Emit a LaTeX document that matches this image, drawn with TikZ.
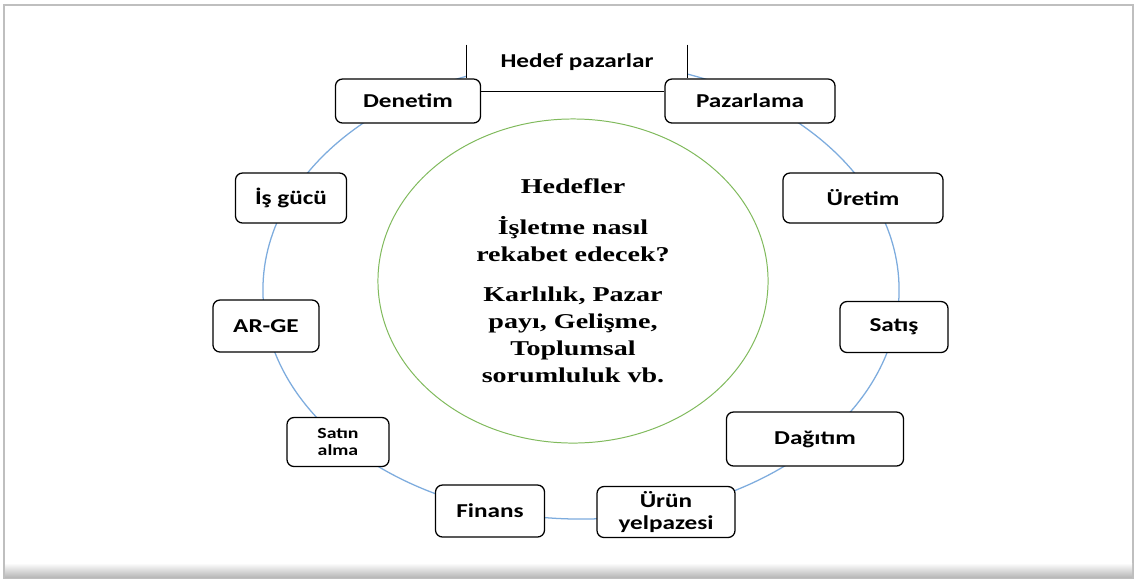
\documentclass[tikz,border=0pt]{standalone}
\usepackage{fontspec}
\setmainfont{Liberation Serif}[FakeStretch=1.33]
\setsansfont{Carlito}[FakeStretch=1.28]
\usetikzlibrary{positioning, shapes.geometric}

\definecolor{ringblue}{RGB}{125,172,222}
\definecolor{goalgreen}{RGB}{128,186,92}

\begin{document}
\begin{tikzpicture}[
    x=0.025cm, y=-0.025cm,
    box/.style={rectangle, draw, line width=0.9pt, rounded corners=5pt, fill=white, minimum height=1.25cm, align=center, font=\sffamily\bfseries\fontsize{14}{16}\selectfont},
    link/.style={-, line width=0.8pt}
  ]
    \useasboundingbox (0,0) rectangle (1135,581);

    % Frame with shadow
    \draw[gray!50, line width=1.2pt, fill=white] (4,5) rectangle (1133,578);
    \shade[top color=white, bottom color=gray!55] (5,563) rectangle (1132,577);

    % Ring and goals in the middle
    \node[ellipse, draw=ringblue, line width=0.9pt, minimum width=15.9cm, minimum height=11.45cm] (ring) at (581,290) {};
    \node[ellipse, draw=goalgreen, line width=0.7pt, minimum width=9.75cm, minimum height=8.1cm, align=center,
          font=\rmfamily\bfseries\fontsize{15}{19.2}\selectfont] (goals) at (573,281)
        {Hedefler\\[10pt] İşletme nasıl\\ rekabet edecek?\\[9pt] Karlılık, Pazar\\ payı, Gelişme,\\ Toplumsal\\ sorumluluk vb.};

    % Target markets at the top
    \node[fill=white, minimum width=5.525cm, minimum height=0.85cm, inner sep=0pt,
          font=\sffamily\bfseries\fontsize{14}{16}\selectfont] (hedef) at (577,62) {Hedef pazarlar};

    % Functions around the ring
    \node[box, minimum width=3.625cm, minimum height=1.1cm] (denetim) at (408,101) {Denetim};
    \node[box, minimum width=4.25cm, minimum height=1.1cm] (pazarlama) at (750,101) {Pazarlama};
    \node[box, minimum width=4cm] (uretim) at (863,198) {Üretim};
    \node[box, minimum width=2.7cm, minimum height=1.275cm] (satis) at (894,327) {Satış};
    \node[box, minimum width=4.425cm, minimum height=1.35cm] (dagitim) at (815,439) {Dağıtım};
    \node[box, minimum width=3.45cm] (urun) at (666,512) {Ürün\\ yelpazesi};
    \node[box, minimum width=2.725cm, minimum height=1.3cm] (finans) at (490,511) {Finans};
    \node[box, minimum width=2.55cm, minimum height=1.225cm, font=\sffamily\bfseries\fontsize{11}{12.5}\selectfont] (satinalma) at (338,442) {Satın\\ alma};
    \node[box, minimum width=2.65cm, minimum height=1.3cm] (arge) at (266,326) {AR-GE};
    \node[box, minimum width=2.775cm] (isgucu) at (291,198) {İş gücü};

    % Lines of the target markets
    \draw[link] (hedef.north west) -- (hedef.north west |- denetim.north);
    \draw[link] (hedef.north east) -- (hedef.north east |- pazarlama.north);
    \draw[link] ([yshift=7pt]denetim.east) -- ([yshift=7pt]pazarlama.west);
\end{tikzpicture}
\end{document}
